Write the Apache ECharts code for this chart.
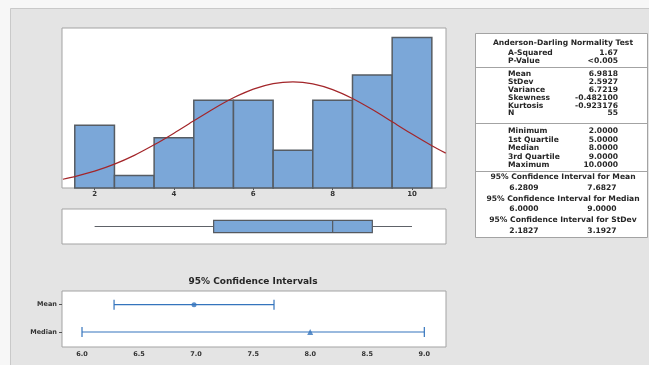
<!DOCTYPE html>
<html>
<head>
<meta charset="utf-8">
<script src="https://cdn.jsdelivr.net/npm/echarts@6/dist/echarts.min.js"></script>
<style>
html, body { margin: 0; padding: 0; background: #f7f7f7; }
#main { width: 649px; height: 365px; }
</style>
</head>
<body>
<div id="main"></div>
<script>
// Histogram: bin centres and counts
const histBins = [2, 3, 4, 5, 6, 7, 8, 9, 10];
const histCounts = [5, 1, 4, 7, 7, 3, 7, 9, 12];
const histTicks = [2, 4, 6, 8, 10];

// Fitted normal curve (scaled to counts)
const fitX = [1.2, 1.5, 2, 2.5, 3, 3.5, 4, 4.5, 5, 5.5, 6, 6.5, 7, 7.5, 8, 8.5, 9, 9.5, 10, 10.5, 10.85];
const fitY = [0.70, 0.91, 1.34, 1.90, 2.60, 3.44, 4.37, 5.35, 6.32, 7.19, 7.88, 8.32, 8.46, 8.30, 7.84, 7.13, 6.25, 5.28, 4.30, 3.37, 2.78];

// Box plot: min, Q1, median, Q3, max
const boxStats = [2, 5, 8, 9, 10];

// Confidence intervals (index 0 = Median row, index 1 = Mean row)
const ciNames = ['Median', 'Mean'];
const ciLow = [6.0, 6.2809];
const ciEst = [8.0, 6.9818];
const ciHigh = [9.0, 7.6827];
const ciTicks = [6.0, 6.5, 7.0, 7.5, 8.0, 8.5, 9.0];

// Summary table
const adTitle = 'Anderson-Darling Normality Test';
const adLabels = ['A-Squared', 'P-Value'];
const adValues = ['1.67', '<0.005'];
const descLabels = ['Mean', 'StDev', 'Variance', 'Skewness', 'Kurtosis', 'N'];
const descValues = ['6.9818', '2.5927', '6.7219', '-0.482100', '-0.923176', '55'];
const quantLabels = ['Minimum', '1st Quartile', 'Median', '3rd Quartile', 'Maximum'];
const quantValues = ['2.0000', '5.0000', '8.0000', '9.0000', '10.0000'];
const ciTitles = ['95% Confidence Interval for Mean', '95% Confidence Interval for Median', '95% Confidence Interval for StDev'];
const ciTableLow = ['6.2809', '6.0000', '2.1827'];
const ciTableHigh = ['7.6827', '9.0000', '3.1927'];

const FONT = '"DejaVu Sans", Verdana, sans-serif';
const BAR_FILL = '#7ba7d8';
const BAR_EDGE = '#565c63';
const CI_BLUE = '#3474bd';
const FRAME = '#a3a3a3';

function txt(x, y, text, align, size, weight) {
  return {
    type: 'text', x: x, y: y, z: 10,
    style: {
      text: text,
      font: (weight || 'bold') + ' ' + (size || 7.6) + 'px ' + FONT,
      fill: '#262626',
      align: align, textAlign: align,
      verticalAlign: 'middle', textVerticalAlign: 'middle'
    }
  };
}
function hline(y, x1, x2) {
  return { type: 'line', z: 9, shape: { x1: x1, y1: y, x2: x2, y2: y }, style: { stroke: FRAME, lineWidth: 1 } };
}

// Table layout
const TL = 475, TR = 647, TT = 33, TB = 237;
const labX = 508, valX = 618, midX = 563;
const graphics = [];
graphics.push({ type: 'rect', z: -10, shape: { x: 10.5, y: 8.5, width: 660, height: 380 }, style: { fill: '#e4e4e4', stroke: '#c9c9c9', lineWidth: 1 } });
graphics.push({ type: 'rect', z: 5, shape: { x: TL + 0.5, y: TT + 0.5, width: TR - TL, height: TB - TT }, style: { fill: '#ffffff', stroke: FRAME, lineWidth: 1 } });
graphics.push(txt(midX, 43.5, adTitle, 'center'));
adLabels.forEach((l, i) => {
  graphics.push(txt(labX, 53 + i * 8, l, 'left'));
  graphics.push(txt(valX, 53 + i * 8, adValues[i], 'right'));
});
graphics.push(hline(67.5, TL, TR));
descLabels.forEach((l, i) => {
  graphics.push(txt(labX, 74 + i * 7.9, l, 'left'));
  graphics.push(txt(valX, 74 + i * 7.9, descValues[i], 'right'));
});
graphics.push(hline(123.5, TL, TR));
quantLabels.forEach((l, i) => {
  graphics.push(txt(labX, 131.5 + i * 8.4, l, 'left'));
  graphics.push(txt(valX, 131.5 + i * 8.4, quantValues[i], 'right'));
});
graphics.push(hline(171.5, TL, TR));
ciTitles.forEach((t, i) => {
  const y = 177.5 + i * 21.5;
  graphics.push(txt(midX, y, t, 'center'));
  graphics.push(txt(524, y + 10.5, ciTableLow[i], 'center'));
  graphics.push(txt(602, y + 10.5, ciTableHigh[i], 'center'));
});
graphics.push(txt(253, 282, '95% Confidence Intervals', 'center', 9, 'bold'));

const chart = echarts.init(document.getElementById('main'), null, { renderer: 'canvas' });

const gridBase = { show: true, left: 62, width: 384, borderColor: FRAME, borderWidth: 1, backgroundColor: '#ffffff' };

chart.setOption({
  animation: false,
  backgroundColor: '#f7f7f7',
  textStyle: { fontFamily: FONT },
  graphic: graphics,
  grid: [
    Object.assign({}, gridBase, { top: 28, height: 160 }),
    Object.assign({}, gridBase, { top: 209, height: 35 }),
    Object.assign({}, gridBase, { top: 291, height: 56 })
  ],
  xAxis: [
    {
      gridIndex: 0, type: 'value', min: 1.178, max: 10.857,
      splitLine: { show: false }, axisLine: { show: false, onZero: false },
      axisTick: { show: true, length: 2, customValues: histTicks, lineStyle: { color: '#555' } },
      axisLabel: { customValues: histTicks, fontSize: 7, fontWeight: 'bold', color: '#333', margin: 3 }
    },
    {
      gridIndex: 1, type: 'value', min: 1.178, max: 10.857,
      show: false, splitLine: { show: false }
    },
    {
      gridIndex: 2, type: 'value', min: 5.8247, max: 9.19,
      splitLine: { show: false }, axisLine: { show: false, onZero: false },
      axisTick: { show: false },
      axisLabel: { customValues: ciTicks, fontSize: 6.5, fontWeight: 'bold', color: '#333', margin: 4,
        formatter: v => v.toFixed(1) }
    }
  ],
  yAxis: [
    { gridIndex: 0, type: 'value', min: 0, max: 12.75, show: false, splitLine: { show: false } },
    { gridIndex: 1, type: 'value', min: 0, max: 1, show: false, splitLine: { show: false } },
    {
      gridIndex: 2, type: 'value', min: -0.55, max: 1.5,
      splitLine: { show: false }, axisLine: { show: false, onZero: false },
      axisTick: { show: true, length: 3, customValues: [0, 1], lineStyle: { color: '#555' } },
      axisLabel: { customValues: [0, 1], fontSize: 6.5, fontWeight: 'bold', color: '#333', margin: 5,
        formatter: v => ciNames[Math.round(v)] }
    }
  ],
  series: [
    {
      type: 'custom', xAxisIndex: 0, yAxisIndex: 0,
      data: histBins.map((b, i) => [b, histCounts[i]]),
      encode: { x: 0, y: 1 },
      renderItem: function (params, api) {
        const x = api.value(0), c = api.value(1);
        const p0 = api.coord([x - 0.5, c]);
        const p1 = api.coord([x + 0.5, 0]);
        return {
          type: 'rect',
          shape: { x: p0[0], y: p0[1], width: p1[0] - p0[0], height: p1[1] - p0[1] },
          style: { fill: BAR_FILL, stroke: BAR_EDGE, lineWidth: 1.5 }
        };
      }
    },
    {
      type: 'line', xAxisIndex: 0, yAxisIndex: 0,
      data: fitX.map((x, i) => [x, fitY[i]]),
      smooth: 0.3, symbol: 'none', clip: true,
      lineStyle: { color: '#a3262a', width: 1.2 }, z: 3
    },
    {
      type: 'custom', xAxisIndex: 1, yAxisIndex: 1,
      data: [boxStats],
      encode: { x: [0, 1, 2, 3, 4] },
      renderItem: function (params, api) {
        const cy = api.coord([0, 0.5])[1];
        const xs = [0, 1, 2, 3, 4].map(k => api.coord([api.value(k), 0.5])[0]);
        const h = 6.2;
        const line = { stroke: '#5e6268', lineWidth: 1 };
        return {
          type: 'group',
          children: [
            { type: 'line', shape: { x1: xs[0], y1: cy, x2: xs[1], y2: cy }, style: line },
            { type: 'line', shape: { x1: xs[3], y1: cy, x2: xs[4], y2: cy }, style: line },
            { type: 'rect', shape: { x: xs[1], y: cy - h, width: xs[3] - xs[1], height: 2 * h },
              style: { fill: BAR_FILL, stroke: '#55595f', lineWidth: 1.2 } },
            { type: 'line', shape: { x1: xs[2], y1: cy - h, x2: xs[2], y2: cy + h }, style: { stroke: '#55595f', lineWidth: 1.2 } }
          ]
        };
      }
    },
    {
      type: 'custom', xAxisIndex: 2, yAxisIndex: 2,
      data: ciNames.map((n, i) => [ciLow[i], ciHigh[i], i]),
      encode: { x: [0, 1], y: 2 },
      renderItem: function (params, api) {
        const a = api.coord([api.value(0), api.value(2)]);
        const b = api.coord([api.value(1), api.value(2)]);
        const st = { stroke: CI_BLUE, lineWidth: 1.2 };
        const cap = 5;
        return {
          type: 'group',
          children: [
            { type: 'line', shape: { x1: a[0], y1: a[1], x2: b[0], y2: b[1] }, style: st },
            { type: 'line', shape: { x1: a[0], y1: a[1] - cap, x2: a[0], y2: a[1] + cap }, style: st },
            { type: 'line', shape: { x1: b[0], y1: b[1] - cap, x2: b[0], y2: b[1] + cap }, style: st }
          ]
        };
      }
    },
    {
      type: 'scatter', xAxisIndex: 2, yAxisIndex: 2,
      data: ciEst.map((v, i) => ({ value: [v, i], symbol: i === 0 ? 'triangle' : 'circle', symbolSize: i === 0 ? 6 : 5 })),
      itemStyle: { color: CI_BLUE }, z: 4
    }
  ]
});
</script>
</body>
</html>
